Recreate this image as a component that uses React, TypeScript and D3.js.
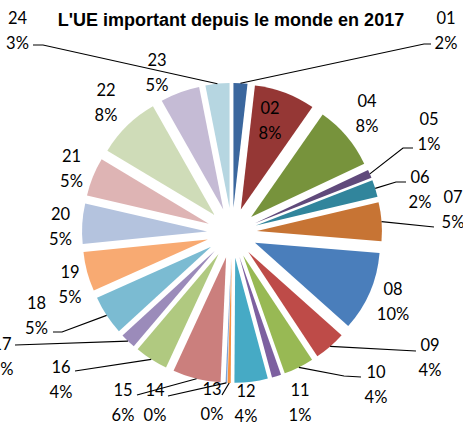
import React from 'react';
import * as d3 from 'd3';

const categories = ['01', '02', '04', '05', '06', '07', '08', '09', '10', '11', '12', '13', '14', '15', '16', '17', '18', '19', '20', '21', '22', '23', '24'];
const values = [1.8, 7.9, 8.3, 1.1, 2.2, 5.0, 10.3, 4.1, 3.9, 1.2, 4.3, 0.4, 0.2, 6.2, 4.3, 2.0, 5.1, 5.1, 5.2, 5.0, 8.2, 5.1, 3.1];
const colors = [
  '#3B679E', '#953735', '#77933C', '#604A7B', '#31859C', '#C77434',
  '#4A7EBB', '#BE4B48', '#98B954', '#7D60A0', '#46AAC5', '#F69240',
  '#7CA0D4', '#CB7F7D', '#B0C980', '#9B8BBA', '#7BBBD2', '#F8AA72',
  '#B4C3DE', '#DEB4B4', '#CFDCB8', '#C5BBD5', '#B6D6E1',
];
const title = "L'UE important depuis le monde en 2017";

const W = 463;
const H = 427;
const cx = 232;
const cy = 233;
const R = 125;
const explode = 25;

// where each label sits (centre x, middle of the first line) and the label end of its leader
const labelLayout: Record<string, { x: number; y: number; leader?: [number, number][] }> = {
  '01': { x: 446, y: 17.5, leader: [[431, 44], [424, 44]] },
  '02': { x: 270, y: 108 },
  '04': { x: 367, y: 101 },
  '05': { x: 429, y: 119, leader: [[413, 148], [403, 148]] },
  '06': { x: 420, y: 176.5, leader: [[406, 182], [396, 182]] },
  '07': { x: 453, y: 196.5, leader: [[434, 227]] },
  '08': { x: 393, y: 289 },
  '09': { x: 430, y: 345, leader: [[416, 351]] },
  '10': { x: 376, y: 371.5, leader: [[361, 377], [344, 376]] },
  '11': { x: 300, y: 390 },
  '12': { x: 246, y: 391 },
  '13': { x: 212, y: 389, leader: [[222, 395]] },
  '14': { x: 155, y: 390, leader: [[168, 396]] },
  '15': { x: 123, y: 390, leader: [[137, 395]] },
  '16': { x: 61, y: 366.5, leader: [[75, 371]] },
  '17': { x: 2, y: 343.5, leader: [[15, 345]] },
  '18': { x: 36.5, y: 303, leader: [[53, 332], [62, 332]] },
  '19': { x: 70, y: 271.5 },
  '20': { x: 60.5, y: 214 },
  '21': { x: 71.5, y: 156 },
  '22': { x: 106, y: 90 },
  '23': { x: 157, y: 60 },
  '24': { x: 17.5, y: 17.5, leader: [[33, 45], [43, 45]] },
};

const labelFont = 'Lato, "Noto Sans", sans-serif';

export default function App() {
  const total = d3.sum(values);
  const pct = d3.format('.0%');
  const pie = d3.pie<number>().sort(null).value((d) => d).startAngle(0).endAngle(2 * Math.PI);
  const arcs = pie(values);
  const arc = d3.arc<d3.PieArcDatum<number>>().innerRadius(0).outerRadius(R);

  return (
    <div style={{ position: 'absolute', left: 0, top: 0 }}>
      <svg width={W} height={H} style={{ display: 'block', background: '#fff' }}>
        <text x={231} y={26} textAnchor="middle" fontFamily='"Liberation Sans", Arial, sans-serif' fontWeight="bold" fontSize={18} fill="#000">
          {title}
        </text>
        {arcs.map((a, i) => {
          const mid = (a.startAngle + a.endAngle) / 2;
          const dx = explode * Math.sin(mid);
          const dy = -explode * Math.cos(mid);
          return (
            <path key={categories[i]} d={arc(a) || ''} transform={`translate(${cx + dx},${cy + dy})`} fill={colors[i]} />
          );
        })}
        {arcs.map((a, i) => {
          const lay = labelLayout[categories[i]];
          if (!lay.leader) return null;
          const mid = (a.startAngle + a.endAngle) / 2;
          const end: [number, number] = [cx + (R + explode) * Math.sin(mid), cy - (R + explode) * Math.cos(mid)];
          const pts = [...lay.leader, end];
          return (
            <polyline key={'l' + categories[i]} points={pts.map((p) => p.join(',')).join(' ')} fill="none" stroke="#000" strokeWidth={1.2} />
          );
        })}
        {arcs.map((a, i) => {
          const lay = labelLayout[categories[i]];
          return (
            <g key={'t' + categories[i]} fontFamily={labelFont} fontSize={16.5} fill="#000" textAnchor="middle">
              <text x={lay.x} y={lay.y + 6}>{categories[i]}</text>
              <text x={lay.x} y={lay.y + 31}>{pct(a.data / total)}</text>
            </g>
          );
        })}
      </svg>
    </div>
  );
}
